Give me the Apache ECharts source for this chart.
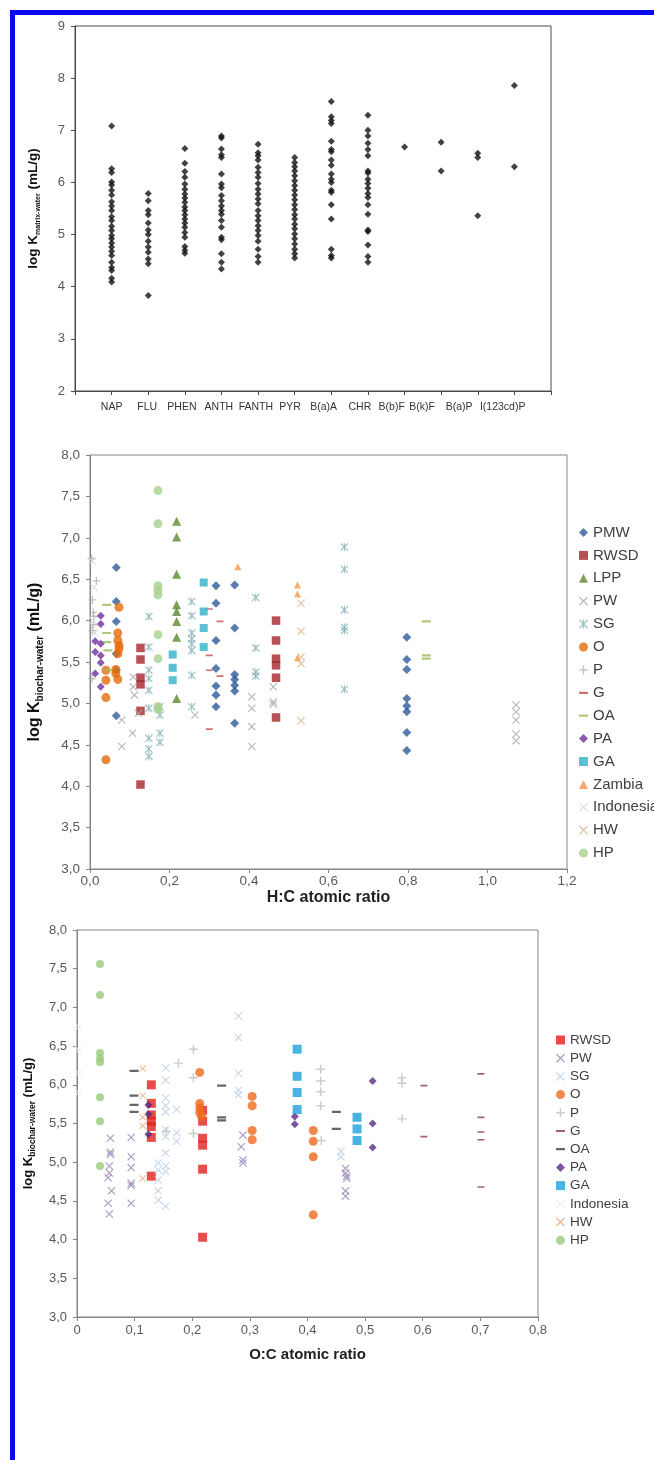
<!DOCTYPE html>
<html>
<head>
<meta charset="utf-8">
<script src="https://cdn.jsdelivr.net/npm/echarts@6/dist/echarts.min.js"></script>
<style>
html,body{margin:0;padding:0;background:#fff;}
#chart{width:654px;height:1460px;}
</style>
</head>
<body>
<div id="chart"></div>
<script>
// ---------- Panel 1: log K matrix-water per compound ----------
const topCats = ['NAP','FLU','PHEN','ANTH','FANTH','PYR','B(a)A','CHR','B(b)F','B(k)F','B(a)P','I(123cd)P'];
const napVals = [7.08,6.26,6.19,6.01,5.95,5.85,5.76,5.63,5.55,5.46,5.34,5.27,5.16,5.08,4.98,4.92,4.84,4.76,4.68,4.60,4.47,4.37,4.31,4.16,4.09];
const fluVals = [5.79,5.65,5.46,5.38,5.22,5.09,5.00,4.87,4.76,4.66,4.53,4.44,3.83];
const phenVals = [6.65,6.37,6.21,6.10,5.97,5.87,5.78,5.70,5.62,5.53,5.46,5.38,5.30,5.22,5.14,5.04,4.95,4.77,4.70,4.64];
const anthVals = [6.89,6.85,6.64,6.53,6.48,6.16,5.97,5.90,5.75,5.65,5.55,5.46,5.39,5.27,5.14,4.95,4.90,4.63,4.47,4.34];
const fanthVals = [6.73,6.57,6.51,6.43,6.29,6.19,6.10,5.98,5.87,5.78,5.68,5.59,5.46,5.36,5.27,5.17,5.08,4.98,4.87,4.72,4.58,4.47];
const pyrVals = [6.48,6.38,6.30,6.22,6.13,6.03,5.94,5.85,5.76,5.67,5.57,5.48,5.38,5.30,5.20,5.11,5.01,4.92,4.82,4.72,4.63,4.55];
const baaVals = [7.55,7.26,7.19,7.13,6.79,6.63,6.59,6.43,6.33,6.16,6.06,6.00,5.85,5.81,5.57,5.30,4.72,4.60,4.55];
const chrVals = [7.29,7.00,6.89,6.75,6.63,6.51,6.22,6.18,6.06,5.98,5.89,5.79,5.71,5.57,5.39,5.09,5.06,4.80,4.58,4.47];
const bbfVals = [6.68];
const bkfVals = [6.77,6.22];
const bapVals = [6.56,6.48,5.36];
const icdpVals = [7.86,6.30];
const topGroups = [napVals,fluVals,phenVals,anthVals,fanthVals,pyrVals,baaVals,chrVals,bbfVals,bkfVals,bapVals,icdpVals];
const topCatPositions = [1,2,3,4,5,6,7,8,9,10,11,12];
// where the original figure printed each compound name (axis units; slightly compressed vs. the marks)
const topLabelAt = [1.0,1.97,2.92,3.93,4.94,5.87,6.79,7.78,8.65,9.48,10.49,11.68];

// ---------- Panel 2: H:C atomic ratio ----------
const hcPMW = [[0.066,6.64],[0.066,6.23],[0.066,5.99],[0.066,5.60],[0.066,5.40],[0.066,4.85],[0.317,6.42],[0.317,6.21],[0.317,5.76],[0.317,5.42],[0.317,5.21],[0.317,5.10],[0.317,4.96],[0.364,6.43],[0.364,5.91],[0.364,5.35],[0.364,5.29],[0.364,5.22],[0.364,5.15],[0.364,4.76],[0.797,5.80],[0.797,5.53],[0.797,5.41],[0.797,5.06],[0.797,4.97],[0.797,4.90],[0.797,4.65],[0.797,4.43]];
const hcRWSD = [[0.127,5.67],[0.127,5.53],[0.127,5.31],[0.127,5.23],[0.127,4.91],[0.127,4.02],[0.468,6.00],[0.468,5.76],[0.468,5.54],[0.468,5.46],[0.468,5.31],[0.468,4.83]];
const hcLPP = [[0.218,7.20],[0.218,7.01],[0.218,6.56],[0.218,6.19],[0.218,6.11],[0.218,5.99],[0.218,5.80],[0.218,5.06]];
const hcPW = [[0.080,4.80],[0.080,4.48],[0.107,4.64],[0.109,5.32],[0.109,5.20],[0.112,5.10],[0.122,4.88],[0.264,4.86],[0.407,5.08],[0.407,4.94],[0.407,4.72],[0.407,4.48],[0.461,5.20],[0.461,5.02],[0.461,4.99],[1.072,4.98],[1.072,4.90],[1.072,4.80],[1.072,4.63],[1.072,4.55]];
const hcSG = [[0.148,6.05],[0.148,5.68],[0.148,5.40],[0.148,5.30],[0.148,5.16],[0.148,4.94],[0.148,4.58],[0.148,4.45],[0.148,4.36],[0.176,4.96],[0.176,4.86],[0.176,4.64],[0.176,4.53],[0.256,6.23],[0.256,6.06],[0.256,5.85],[0.256,5.78],[0.256,5.72],[0.256,5.64],[0.256,5.34],[0.256,4.96],[0.417,6.28],[0.417,5.67],[0.417,5.38],[0.417,5.33],[0.640,6.89],[0.640,6.62],[0.640,6.13],[0.640,5.92],[0.640,5.88],[0.640,5.17]];
const hcO = [[0.040,5.40],[0.040,5.28],[0.040,5.07],[0.040,4.32],[0.073,6.16],[0.070,5.85],[0.070,5.76],[0.073,5.70],[0.073,5.66],[0.070,5.60],[0.065,5.41],[0.065,5.36],[0.070,5.29]];
const hcP = [[0.016,6.48],[0.004,6.75],[0.006,6.25],[0.008,6.10],[0.010,6.05],[0.008,5.95],[0.006,5.88],[0.005,5.30]];
const hcG = [[0.300,6.14],[0.327,5.99],[0.300,5.58],[0.300,5.40],[0.327,5.33],[0.300,4.69]];
const hcOA = [[0.042,6.19],[0.042,5.85],[0.042,5.74],[0.045,5.64],[0.045,5.40],[0.846,5.99],[0.846,5.58],[0.846,5.54]];
const hcPA = [[0.027,6.06],[0.027,5.96],[0.013,5.75],[0.027,5.72],[0.013,5.62],[0.027,5.58],[0.027,5.49],[0.013,5.36],[0.027,5.20]];
const hcGA = [[0.208,5.59],[0.208,5.43],[0.208,5.28],[0.286,6.46],[0.286,6.11],[0.286,5.91],[0.286,5.68]];
const hcZambia = [[0.372,6.65],[0.522,6.43],[0.522,6.32],[0.522,5.55]];
const hcIndonesia = [[0.005,6.72],[0.010,6.40],[0.008,6.00],[0.012,5.85]];
const hcHW = [[0.531,6.21],[0.531,5.87],[0.531,5.56],[0.531,5.48],[0.531,4.79]];
const hcHP = [[0.171,7.57],[0.171,7.17],[0.171,6.42],[0.171,6.37],[0.171,6.31],[0.171,5.83],[0.171,5.54],[0.171,4.96],[0.171,4.93]];

// ---------- Panel 3: O:C atomic ratio ----------
const ocRWSD = [[0.129,6.00],[0.129,5.76],[0.129,5.61],[0.129,5.53],[0.129,5.46],[0.129,5.32],[0.129,4.82],[0.218,5.67],[0.218,5.53],[0.218,5.31],[0.218,5.22],[0.218,4.91],[0.218,4.03]];
const ocPW = [[0.058,5.31],[0.058,5.13],[0.058,5.10],[0.056,4.95],[0.056,4.86],[0.054,4.80],[0.060,4.63],[0.054,4.47],[0.056,4.33],[0.094,5.32],[0.094,5.07],[0.094,4.93],[0.094,4.73],[0.094,4.70],[0.094,4.47],[0.288,5.35],[0.285,5.20],[0.288,5.03],[0.288,4.99],[0.466,4.92],[0.466,4.86],[0.468,4.82],[0.468,4.79],[0.466,4.63],[0.466,4.56]];
const ocSG = [[0.141,4.99],[0.141,4.90],[0.141,4.77],[0.141,4.63],[0.141,4.51],[0.154,6.22],[0.154,6.06],[0.154,5.83],[0.154,5.73],[0.154,5.65],[0.154,5.42],[0.154,5.33],[0.154,5.12],[0.154,4.95],[0.154,4.88],[0.154,4.43],[0.173,5.68],[0.173,5.38],[0.173,5.27],[0.280,6.89],[0.280,6.61],[0.280,6.15],[0.280,5.93],[0.280,5.87],[0.458,5.14],[0.458,5.07]];
const ocO = [[0.213,6.16],[0.213,5.76],[0.213,5.70],[0.213,5.64],[0.216,5.59],[0.304,5.85],[0.304,5.73],[0.304,5.41],[0.304,5.29],[0.410,5.41],[0.410,5.27],[0.410,5.07],[0.410,4.32]];
const ocP = [[0.202,6.46],[0.176,6.28],[0.202,6.09],[0.423,6.20],[0.423,6.05],[0.423,5.91],[0.423,5.73],[0.424,5.28],[0.564,6.09],[0.564,6.02],[0.564,5.56],[0.202,5.37],[0.155,5.40]];
const ocG = [[0.602,5.99],[0.602,5.33],[0.701,6.14],[0.701,5.58],[0.701,5.39],[0.701,5.29],[0.701,4.68]];
const ocOA = [[0.099,6.18],[0.099,5.86],[0.099,5.74],[0.099,5.65],[0.251,5.99],[0.251,5.58],[0.251,5.54],[0.450,5.65],[0.450,5.43]];
const ocPA = [[0.124,5.74],[0.124,5.62],[0.124,5.36],[0.378,5.59],[0.378,5.49],[0.513,6.05],[0.513,5.50],[0.513,5.19]];
const ocGA = [[0.382,6.46],[0.382,6.11],[0.382,5.90],[0.382,5.68],[0.486,5.58],[0.486,5.43],[0.486,5.28]];
const ocIndonesia = [[0.003,6.75],[0.003,6.45],[0.003,6.15],[0.003,5.90]];
const ocHW = [[0.114,6.21],[0.114,5.86],[0.114,5.58],[0.114,5.47],[0.114,4.79]];
const ocHP = [[0.040,7.56],[0.040,7.16],[0.040,6.41],[0.040,6.34],[0.040,6.29],[0.040,5.84],[0.040,5.53],[0.040,4.95]];

const midLegend = ['PMW','RWSD','LPP','PW','SG','O','P','G','OA','PA','GA','Zambia','Indonesia','HW','HP'];
const botLegend = ['RWSD','PW','SG','O','P','G','OA','PA','GA','Indonesia','HW','HP'];

// ---------- rendering ----------
const FONT = '"Liberation Sans", Arial, sans-serif';
const XSYM = 'path://M1,0 L5,4 L9,0 L10,1 L6,5 L10,9 L9,10 L5,6 L1,10 L0,9 L4,5 L0,1 Z';
const STARSYM = 'path://M1,0 L5,4 L9,0 L10,1 L6,5 L10,9 L9,10 L5,6 L1,10 L0,9 L4,5 L0,1 Z M4.4,0 L5.6,0 L5.6,10 L4.4,10 Z';
const PLUSSYM = 'path://M4.2,0 L5.8,0 L5.8,4.2 L10,4.2 L10,5.8 L5.8,5.8 L5.8,10 L4.2,10 L4.2,5.8 L0,5.8 L0,4.2 L4.2,4.2 Z';
const DASHSYM = 'path://M0,0 L0.01,0 L0.01,0.01 L0,0.01 Z M0,3.8 L10,3.8 L10,6.2 L0,6.2 Z M9.99,9.99 L10,9.99 L10,10 L9.99,10 Z';

const midStyle = {
  PMW:['diamond',9,'#2E5B98'], RWSD:['rect',8.5,'#A5262C'], LPP:['triangle',9,'#5C8A2E'],
  PW:[XSYM,8,'#A6A6A6'], SG:[STARSYM,8,'#7FAFB3'], O:['circle',9,'#E46C0A'],
  P:[PLUSSYM,8,'#B0B0B0'], G:[DASHSYM,7,'#C0504D'], OA:[DASHSYM,9,'#9BBB59'],
  PA:['diamond',8,'#7030A0'], GA:['rect',8,'#31B0C8'], Zambia:['triangle',7,'#F79646'],
  Indonesia:[XSYM,8,'#D9D9D9'], HW:[XSYM,8,'#D9B38C'], HP:['circle',9,'#A9D18E']
};
const midData = {PMW:hcPMW,RWSD:hcRWSD,LPP:hcLPP,PW:hcPW,SG:hcSG,O:hcO,P:hcP,G:hcG,OA:hcOA,PA:hcPA,GA:hcGA,Zambia:hcZambia,Indonesia:hcIndonesia,HW:hcHW,HP:hcHP};
const botStyle = {
  RWSD:['rect',9,'#E3201B'], PW:[XSYM,8,'#9484B4'], SG:[XSYM,8,'#B9CDE5'], O:['circle',9,'#F06A1E'],
  P:[PLUSSYM,9,'#BFBFBF'], G:[DASHSYM,7,'#8E3B46'], OA:[DASHSYM,9,'#404040'], PA:['diamond',8,'#5B2A86'],
  GA:['rect',9,'#1BA1DB'], Indonesia:[XSYM,8,'#EDEDED'], HW:[XSYM,7,'#E9A878'], HP:['circle',8,'#9ACB7A']
};
const botData = {RWSD:ocRWSD,PW:ocPW,SG:ocSG,O:ocO,P:ocP,G:ocG,OA:ocOA,PA:ocPA,GA:ocGA,Indonesia:ocIndonesia,HW:ocHW,HP:ocHP};

const comma1 = v => v.toFixed(1).replace('.', ',');
const labelColor = '#595959';

function topLabelName(v){
  let best = -1, bd = 1e9;
  topLabelAt.forEach((p, i) => { const d = Math.abs(p - v); if (d < bd) { bd = d; best = i; } });
  return bd < 0.05 ? topCats[best] : '';
}

const series = [];
const topPoints = [];
topGroups.forEach((vals, i) => vals.forEach(v => topPoints.push([topCatPositions[i], v])));
series.push({name:'PAH', type:'scatter', xAxisIndex:0, yAxisIndex:0, data:topPoints,
  symbol:'diamond', symbolSize:7, itemStyle:{color:'#111'}});
midLegend.forEach(n => {
  const s = midStyle[n];
  series.push({name:n, type:'scatter', xAxisIndex:1, yAxisIndex:1, data:midData[n],
    symbol:s[0], symbolSize:s[1], itemStyle:{color:s[2]}});
});
botLegend.forEach(n => {
  const s = botStyle[n];
  series.push({name:n + '|oc', type:'scatter', xAxisIndex:2, yAxisIndex:2, data:botData[n],
    symbol:s[0], symbolSize:s[1], itemStyle:{color:s[2]}});
});

function axisBase(color){
  return {
    axisLine:{show:true, onZero:false, lineStyle:{color:color, width:1}},
    axisTick:{show:true, inside:false, length:4, lineStyle:{color:color}},
    splitLine:{show:false}
  };
}

const option = {
  animation:false,
  backgroundColor:'#ffffff',
  textStyle:{fontFamily:FONT},
  grid:[
    {left:75, top:26, width:476, height:365, show:true, borderColor:'#4a4a4a', borderWidth:1, backgroundColor:'transparent'},
    {left:90, top:455, width:477, height:414, show:true, borderColor:'#858585', borderWidth:1, backgroundColor:'transparent'},
    {left:77, top:930, width:461, height:387, show:true, borderColor:'#858585', borderWidth:1, backgroundColor:'transparent'}
  ],
  xAxis:[
    Object.assign(axisBase('#4a4a4a'), {gridIndex:0, type:'value', min:0, max:13, interval:1,
      axisLabel:{show:true, customValues:topLabelAt, showMinLabel:true, showMaxLabel:true,
        fontFamily:FONT, fontSize:10.5, color:'#333', margin:11, formatter:topLabelName}}),
    Object.assign(axisBase('#858585'), {gridIndex:1, type:'value', min:0, max:1.2, interval:0.2,
      name:'H:C atomic ratio', nameLocation:'middle', nameGap:21,
      nameTextStyle:{fontFamily:FONT, fontSize:16, fontWeight:'bold', color:'#222'},
      axisLabel:{fontFamily:FONT, fontSize:13.5, color:labelColor, margin:5, formatter:comma1}}),
    Object.assign(axisBase('#858585'), {gridIndex:2, type:'value', min:0, max:0.8, interval:0.1,
      name:'O:C atomic ratio', nameLocation:'middle', nameGap:30,
      nameTextStyle:{fontFamily:FONT, fontSize:15, fontWeight:'bold', color:'#222'},
      axisLabel:{fontFamily:FONT, fontSize:13, color:labelColor, margin:7,
        formatter:v => v === 0 ? '0' : comma1(v)}})
  ],
  yAxis:[
    Object.assign(axisBase('#4a4a4a'), {gridIndex:0, type:'value', min:2, max:9, interval:1,
      name:'{a|log K}{b|matrix-water}{a| (mL/g)}', nameLocation:'middle', nameRotate:90, nameGap:33,
      nameTextStyle:{fontFamily:FONT, color:'#111', rich:{
        a:{fontFamily:FONT, fontSize:13.5, fontWeight:'bold', color:'#111', lineHeight:17, verticalAlign:'middle'},
        b:{fontFamily:FONT, fontSize:7, fontWeight:'bold', color:'#111', lineHeight:8, verticalAlign:'bottom'}}},
      axisLabel:{fontFamily:FONT, fontSize:13, color:labelColor, margin:10}}),
    Object.assign(axisBase('#858585'), {gridIndex:1, type:'value', min:3, max:8, interval:0.5,
      name:'{a|log K}{b|biochar-water}{a| (mL/g)}', nameLocation:'middle', nameRotate:90, nameGap:45,
      nameTextStyle:{fontFamily:FONT, color:'#111', rich:{
        a:{fontFamily:FONT, fontSize:16, fontWeight:'bold', color:'#111', lineHeight:20, verticalAlign:'middle'},
        b:{fontFamily:FONT, fontSize:10, fontWeight:'bold', color:'#111', lineHeight:10, verticalAlign:'bottom'}}},
      axisLabel:{fontFamily:FONT, fontSize:13.5, color:labelColor, margin:10, formatter:comma1}}),
    Object.assign(axisBase('#858585'), {gridIndex:2, type:'value', min:3, max:8, interval:0.5,
      name:'{a|log K}{b|biochar-water}{a| (mL/g)}', nameLocation:'middle', nameRotate:90, nameGap:40,
      nameTextStyle:{fontFamily:FONT, color:'#111', rich:{
        a:{fontFamily:FONT, fontSize:13, fontWeight:'bold', color:'#111', lineHeight:17, verticalAlign:'middle'},
        b:{fontFamily:FONT, fontSize:8.5, fontWeight:'bold', color:'#111', lineHeight:9, verticalAlign:'bottom'}}},
      axisLabel:{fontFamily:FONT, fontSize:13, color:labelColor, margin:10, formatter:comma1}})
  ],
  legend:[
    {data:midLegend, orient:'vertical', left:574, top:520, itemWidth:9, itemHeight:9, itemGap:7.9,
      selectedMode:false, textStyle:{fontFamily:FONT, fontSize:15, color:'#404040'}},
    {data:botLegend.map(n => n + '|oc'), orient:'vertical', left:551, top:1028, itemWidth:9, itemHeight:9, itemGap:4.2,
      selectedMode:false, formatter:n => n.split('|')[0],
      textStyle:{fontFamily:FONT, fontSize:13.5, color:'#404040'}}
  ],
  graphic:[
    {type:'rect', left:10, top:10, shape:{width:644, height:5}, style:{fill:'#0A0AF0'}, silent:true},
    {type:'rect', left:10, top:10, shape:{width:5, height:1450}, style:{fill:'#0A0AF0'}, silent:true}
  ],
  series:series
};

const chart = echarts.init(document.getElementById('chart'), null, {renderer:'canvas'});
chart.setOption(option);
</script>
</body>
</html>
